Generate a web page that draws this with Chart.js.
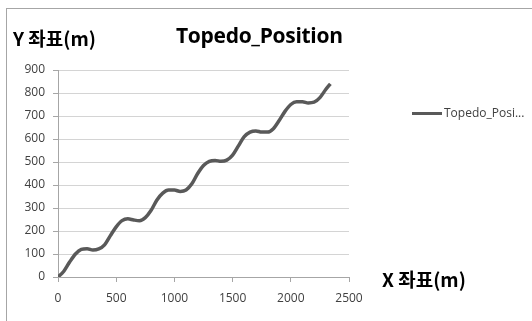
<!DOCTYPE html>
<html>
<head>
<meta charset="utf-8">
<script src="https://cdn.jsdelivr.net/npm/chart.js@4/dist/chart.umd.min.js"></script>
<style>
html,body{margin:0;padding:0;background:#fff;overflow:hidden}
#wrap{position:relative;width:532px;height:321px}
#frame{position:absolute;left:6px;top:8px;width:600px;height:400px;border:1px solid #a6a6a6;box-sizing:border-box}
canvas{position:absolute;left:0;top:0}
.lbl{position:absolute;white-space:nowrap;color:#000}
.ax{font:bold 19px "Noto Sans CJK KR","Noto Sans",sans-serif;line-height:1}
#title{left:176px;top:25px;font:bold 21px "Open Sans","Noto Sans",sans-serif;line-height:1;letter-spacing:-0.3px}
#ylab{left:13px;top:28px}
#xlab{left:382px;top:269px}
#legend{left:412px;top:105px;font:12px "Open Sans","Noto Sans",sans-serif;color:#404040;display:flex;align-items:center;line-height:16px}
#legend span.sw{display:inline-block;width:30px;height:3px;background:#595959;margin-right:2px}
</style>
</head>
<body>
<div id="wrap">
<div id="frame"></div>
<canvas id="c" width="532" height="321"></canvas>
<div class="lbl ax" id="ylab">Y 좌표(m)</div>
<div class="lbl" id="title">Topedo_Position</div>
<div class="lbl ax" id="xlab">X 좌표(m)</div>
<div class="lbl" id="legend"><span class="sw"></span>Topedo_Posi...</div>
</div>
<script>
// values
const xs=[0,50,100,150,200,250,300,350,400,450,500,550,600,650,700,750,800,850,900,950,1000,1050,1100,1150,1200,1250,1300,1350,1400,1450,1500,1550,1600,1650,1700,1750,1800,1850,1900,1950,2000,2050,2100,2150,2200,2250,2300,2340];
const ys=[0,25,65,100,120,123,117,122,140,180,218,245,253,248,245,258,290,335,365,378,378,372,378,405,450,485,503,507,503,508,530,570,610,630,635,630,630,645,680,720,750,762,762,757,760,780,815,840];
const xTicks=[0,500,1000,1500,2000,2500];
const yTicks=[0,100,200,300,400,500,600,700,800,900];

const pts=xs.map((x,i)=>({x,y:ys[i]}));
const tickFont={family:'"Open Sans","Noto Sans",sans-serif',size:12};
new Chart(document.getElementById('c'),{
  type:'scatter',
  data:{datasets:[{label:'Topedo_Position',data:pts,showLine:true,borderColor:'#595959',borderWidth:3.5,pointRadius:0,tension:0.4,cubicInterpolationMode:'monotone'}]},
  options:{responsive:false,animation:false,
    layout:{padding:{top:70,right:183,left:0,bottom:0}},
    plugins:{legend:{display:false},tooltip:{enabled:false}},
    scales:{
      x:{type:'linear',min:0,max:2500,afterBuildTicks:s=>{s.ticks=xTicks.map(v=>({value:v}))},afterFit:s=>{s.height=44},
        ticks:{color:'#404040',font:tickFont,padding:9,maxRotation:0,callback:v=>String(v)},
        grid:{drawOnChartArea:false,drawTicks:true,tickLength:5,color:'#a6a6a6'},border:{color:'#a6a6a6'}},
      y:{min:0,max:900,afterBuildTicks:s=>{s.ticks=yTicks.map(v=>({value:v}))},afterFit:s=>{s.width=58},
        ticks:{color:'#404040',font:tickFont,padding:8,callback:v=>String(v)},
        grid:{color:'#d4d4d4',tickLength:5,tickColor:'#a6a6a6'},border:{color:'#a6a6a6'}}
    }}
});
</script>
</body>
</html>
